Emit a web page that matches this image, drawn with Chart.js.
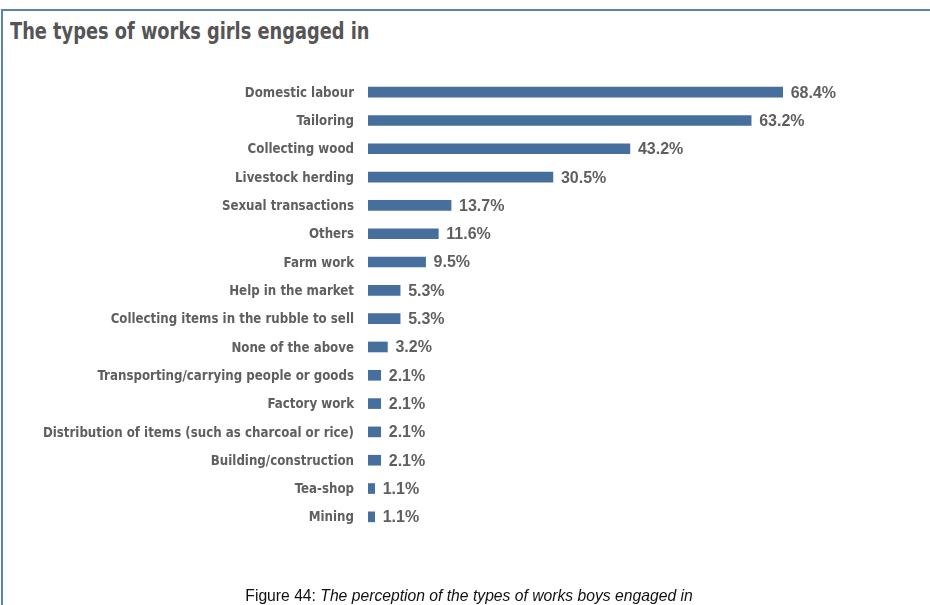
<!DOCTYPE html>
<html>
<head>
<meta charset="utf-8">
<script src="https://cdn.jsdelivr.net/npm/chart.js@4.4.1/dist/chart.umd.min.js"></script>
<style>
    html, body { margin: 0; padding: 0; background: #fff; }
    #wrap { position: relative; width: 930px; height: 605px; overflow: hidden; }
    #frame {
        position: absolute; left: 1px; top: 9px; width: 960px; height: 640px;
        border-left: 2px solid #5b84b4; border-top: 2px solid #5b84b4;
    }
    #title {
        position: absolute; left: 10px; top: 18px; white-space: nowrap;
        font-family: "DejaVu Sans Condensed", "Liberation Sans", sans-serif;
        font-weight: bold; font-size: 23px; color: #555;
        transform: scaleX(0.86); transform-origin: left top;
    }
    #caption {
        position: absolute; left: 0; width: 938px; top: 587px; text-align: center;
        font-family: "Liberation Sans", Arial, sans-serif; font-size: 15.7px; color: #111;
        white-space: nowrap;
    }
    canvas { position: absolute; left: 0; top: 0; }
</style>
</head>
<body>
<div id="wrap">
    <div id="frame"></div>
    <div id="title">The types of works girls engaged in</div>
    <canvas id="chart" width="930" height="605"></canvas>
    <div id="caption">Figure 44: <i>The perception of the types of works boys engaged in</i></div>
</div>
<script>
const categories = [
    'Domestic labour',
    'Tailoring',
    'Collecting wood',
    'Livestock herding',
    'Sexual transactions',
    'Others',
    'Farm work',
    'Help in the market',
    'Collecting items in the rubble to sell',
    'None of the above',
    'Transporting/carrying people or goods',
    'Factory work',
    'Distribution of items (such as charcoal or rice)',
    'Building/construction',
    'Tea-shop',
    'Mining'
];
const percentages = [68.4, 63.2, 43.2, 30.5, 13.7, 11.6, 9.5, 5.3, 5.3, 3.2, 2.1, 2.1, 2.1, 2.1, 1.1, 1.1];

const BAR_COLOR = '#476f9e';
const TEXT_GRAY = '#5f5f5f';

// category names (squeezed to look condensed) and "xx.x%" values past each bar
const barText = {
    id: 'barText',
    afterDatasetsDraw(chart) {
        const ctx = chart.ctx;
        const yScale = chart.scales.y;
        const meta = chart.getDatasetMeta(0);
        ctx.save();
        ctx.fillStyle = TEXT_GRAY;
        ctx.textBaseline = 'middle';

        ctx.font = 'bold 14px "DejaVu Sans Condensed", sans-serif';
        ctx.textAlign = 'right';
        const rightX = chart.chartArea.left - 14;
        categories.forEach((name, i) => {
            const y = yScale.getPixelForTick(i) + 1;
            ctx.save();
            ctx.translate(rightX, y);
            ctx.scale(0.94, 1);
            ctx.fillText(name, 0, 0);
            ctx.restore();
        });

        ctx.font = 'bold 16px "Liberation Sans", Arial, sans-serif';
        ctx.textAlign = 'left';
        meta.data.forEach((bar, i) => {
            ctx.fillText(percentages[i].toFixed(1) + '%', bar.x + 8, bar.y + 1);
        });
        ctx.restore();
    }
};

new Chart(document.getElementById('chart').getContext('2d'), {
    type: 'bar',
    data: {
        labels: categories,
        datasets: [{
            data: percentages,
            backgroundColor: BAR_COLOR,
            barThickness: 10,
            borderWidth: 0
        }]
    },
    options: {
        indexAxis: 'y',
        responsive: false,
        animation: false,
        layout: { padding: { left: 368, right: 77, top: 78, bottom: 74 } },
        plugins: {
            legend: { display: false },
            tooltip: { enabled: false }
        },
        scales: {
            x: { display: false, min: 0, max: 80 },
            y: { display: false }
        }
    },
    plugins: [barText]
});
</script>
</body>
</html>
